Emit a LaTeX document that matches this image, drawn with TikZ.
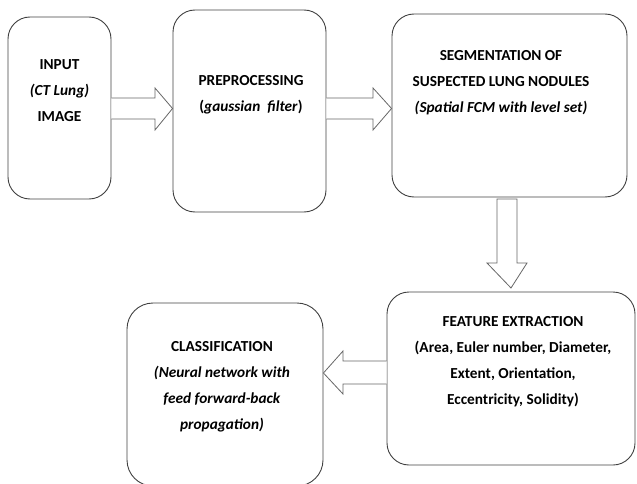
\documentclass[tikz,border=0pt]{standalone}
\usepackage{fontspec}
\setmainfont{Carlito}
\begin{document}
\begin{tikzpicture}[x=1pt,y=-1pt,
  box/.style={draw=black!75, line width=0.9pt, rounded corners=22pt, inner sep=0pt},
  txt/.style={font=\fontsize{15.3}{26}\selectfont\bfseries, align=center, text=black, inner sep=0pt},
  blockarrow/.style={draw=black!60, line width=0.8pt, fill=white, line join=miter}]
\useasboundingbox (0,0) rectangle (637,484);
% boxes
\node[box, minimum width=103pt, minimum height=182pt] (b1) at (59.5,108) {};
\node[box, minimum width=153pt, minimum height=202pt] (b2) at (249.5,111) {};
\node[box, minimum width=235pt, minimum height=183pt] (b3) at (509.5,105.5) {};
\node[box, minimum width=248pt, minimum height=173pt] (b4) at (511,378.5) {};
\node[box, minimum width=196pt, minimum height=183pt, rounded corners=26pt] (b5) at (225,394.5) {};
% texts
\node[txt] (t1) at (59.5,91) {INPUT\\\textit{(CT Lung)}\\IMAGE};
\node[txt] (t2) at (251,95) {PREPROCESSING\\(\textit{gaussian\ \ filter})};
\node[txt] (t3) at (501,82.5) {SEGMENTATION OF\\SUSPECTED LUNG NODULES\\\textit{(Spatial FCM with level set)}};
\node[txt] (t4) at (513,362) {FEATURE EXTRACTION\\(Area, Euler number, Diameter,\\Extent, Orientation,\\Eccentricity, Solidity)};
\node[txt] (t5) at (222,386.5) {CLASSIFICATION\\\textit{(Neural network with}\\\textit{feed forward-back}\\\textit{propagation)}};
% arrows
\draw[blockarrow] (b1.east |- 0,98) -- (155,98) -- (155,88) -- (b2.west |- 0,108.5)
  -- (155,130) -- (155,119) -- (b1.east |- 0,119);
\draw[blockarrow] (b2.east |- 0,98) -- (373,98) -- (373,88) -- (b3.west |- 0,108.5)
  -- (373,130) -- (373,119) -- (b2.east |- 0,119);
\draw[blockarrow] (497,199) -- (517,199) -- (517,263) -- (527,263) -- (507,288 -| b4.north)
  -- (487,263) -- (497,263) -- cycle;
\draw[blockarrow] (b4.west |- 0,361) -- (343,361) -- (343,351) -- (b5.east |- 0,373)
  -- (343,394) -- (343,384) -- (b4.west |- 0,384);
\end{tikzpicture}
\end{document}
